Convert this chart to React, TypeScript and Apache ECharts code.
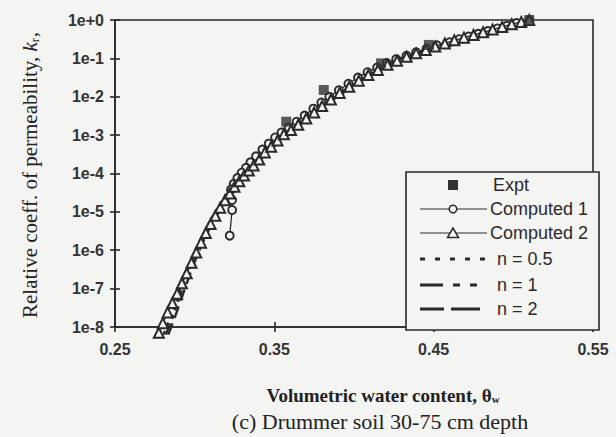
import React, { useEffect, useRef } from "react";
import * as echarts from "echarts";

// ---- tick labels ----
const xTicks = [0.25, 0.35, 0.45, 0.55];
const yTicks = [1e-8, 1e-7, 1e-6, 1e-5, 1e-4, 1e-3, 1e-2, 1e-1, 1];

// ---- series (volumetric water content, relative permeability) ----
const exptTheta = [0.3575, 0.381, 0.417, 0.447, 0.51];
const exptK = [2.24e-3, 1.5e-2, 7.4e-2, 0.224, 1.0];

const comp1Theta = [
  0.51, 0.502, 0.496, 0.49, 0.484, 0.478, 0.472, 0.466, 0.46, 0.452, 0.4455, 0.439,
  0.433, 0.4265, 0.4205, 0.4145, 0.4085, 0.4025, 0.3965, 0.3905, 0.3845, 0.3795,
  0.3745, 0.369, 0.364, 0.359, 0.3545, 0.3505, 0.3465, 0.3425, 0.3385, 0.335, 0.3322,
  0.3295, 0.3268, 0.3245, 0.3228, 0.3235, 0.3235, 0.322,
];
const comp1K = [
  1.0, 0.832, 0.708, 0.603, 0.513, 0.437, 0.372, 0.316, 0.263, 0.219, 0.178, 0.145,
  0.117, 0.0955, 0.0759, 0.0575, 0.0437, 0.0316, 0.0219, 0.0148, 0.01, 0.0071,
  0.0049, 0.00324, 0.00224, 0.00158, 1.17e-3, 8.7e-4, 6.0e-4, 4.2e-4, 2.8e-4,
  1.95e-4, 1.41e-4, 1.05e-4, 7.59e-5, 5.37e-5, 3.8e-5, 2.04e-5, 1.12e-5, 2.4e-6,
];

const comp2Theta = [
  0.2775, 0.28, 0.283, 0.286, 0.289, 0.292, 0.295, 0.298, 0.301, 0.304, 0.307, 0.31,
  0.313, 0.316, 0.319, 0.322, 0.325, 0.328, 0.331, 0.334, 0.337, 0.3405, 0.344, 0.348,
  0.352, 0.356, 0.3605, 0.365, 0.37, 0.375, 0.38, 0.3855, 0.391, 0.397, 0.403, 0.409,
  0.415, 0.421, 0.427, 0.433, 0.439, 0.445, 0.451, 0.457, 0.463, 0.469, 0.475, 0.481,
  0.487, 0.493, 0.499, 0.505, 0.51,
];
const comp2K = [
  7.1e-9, 1.26e-8, 2.4e-8, 4.2e-8, 7.4e-8, 1.38e-7, 2.5e-7, 4.7e-7, 8.7e-7, 1.58e-6,
  2.8e-6, 4.8e-6, 7.9e-6, 1.29e-5, 2.0e-5, 3.0e-5, 4.5e-5, 6.3e-5, 8.9e-5, 1.2e-4,
  1.62e-4, 2.3e-4, 3.55e-4, 5.0e-4, 7.2e-4, 1.05e-3, 1.35e-3, 1.86e-3, 2.7e-3, 3.9e-3,
  5.75e-3, 8.5e-3, 1.26e-2, 1.82e-2, 2.63e-2, 3.7e-2, 5.0e-2, 6.8e-2, 8.7e-2, 0.11,
  0.135, 0.166, 0.204, 0.245, 0.295, 0.347, 0.407, 0.479, 0.562, 0.661, 0.776, 0.891,
  1.0,
];

const n05Theta = [0.2805, 0.285, 0.29, 0.296, 0.302, 0.31, 0.32, 0.332, 0.345, 0.36, 0.38, 0.4, 0.425, 0.45, 0.48, 0.51];
const n1Theta = [0.282, 0.2865, 0.2915, 0.297, 0.303, 0.311, 0.321, 0.333, 0.346, 0.361, 0.38, 0.4, 0.425, 0.45, 0.48, 0.51];
const n2Theta = [0.2835, 0.288, 0.293, 0.2985, 0.3045, 0.312, 0.322, 0.334, 0.347, 0.362, 0.381, 0.401, 0.425, 0.45, 0.48, 0.51];
const nK = [6.3e-9, 2.0e-8, 7.9e-8, 3.5e-7, 1.41e-6, 6.3e-6, 2.8e-5, 1.12e-4, 4.0e-4, 1.41e-3, 5.75e-3, 2.1e-2, 7.9e-2, 0.2, 0.479, 1.0];

const legendLabels = ["Expt", "Computed 1", "Computed 2", "n = 0.5", "n = 1", "n = 2"];

const BG = "#f4f4f2";
const INK = "#2a2a2a";

const zip = (xs: number[], ys: number[]) => xs.map((x, i) => [x, ys[i]]);

export default function App() {
  const ref = useRef<HTMLDivElement>(null);
  useEffect(() => {
    if (!ref.current) return;
    const chart = echarts.init(ref.current, null, { renderer: "svg" });
    const axisLine = { show: true, onZero: false, lineStyle: { color: INK, width: 1.6 } };
    const tickStyle = { color: INK, width: 1.6 };
    const labelFont = {
      fontFamily: "Liberation Sans, Arial, sans-serif",
      fontSize: 16,
      fontWeight: "bold" as const,
      color: "#333",
    };
    const lineBase = {
      type: "line" as const,
      showSymbol: false,
      symbol: "none",
      clip: false,
      silent: true,
      z: 2,
    };
    const legendY = [185, 209, 233, 259, 285, 309];
    const sansText = (text: string, x: number, y: number) => ({
      type: "text",
      x,
      y,
      z: 101,
      style: {
        text,
        fill: "#2a2a2a",
        fontFamily: "Liberation Sans, Arial, sans-serif",
        fontSize: 18,
        align: "left",
        verticalAlign: "middle",
      },
    });
    const seg = (x1: number, x2: number, y: number, w: number, dash?: number[]) => ({
      type: "line",
      z: 101,
      shape: { x1, y1: y, x2, y2: y },
      style: { stroke: INK, lineWidth: w, lineDash: dash },
    });

    chart.setOption({
      animation: false,
      backgroundColor: BG,
      grid: {
        left: 115,
        right: 23,
        top: 20,
        bottom: 110,
        show: true,
        borderColor: INK,
        borderWidth: 1.6,
        backgroundColor: "transparent",
      },
      xAxis: [
        {
          type: "value",
          min: 0.25,
          max: 0.55,
          position: "bottom",
          axisLine,
          axisTick: { show: true, length: 5, lineStyle: tickStyle, customValues: xTicks },
          axisLabel: {
            ...labelFont,
            margin: 14,
            customValues: xTicks,
            formatter: (v: number) => v.toFixed(2),
          },
          splitLine: { show: false },
        },
        {
          type: "value",
          min: 0.25,
          max: 0.55,
          position: "bottom",
          axisLine: { show: false },
          axisTick: { show: true, inside: true, length: 5, lineStyle: tickStyle, customValues: xTicks },
          axisLabel: { show: false },
          splitLine: { show: false },
        },
      ],
      yAxis: [
        {
          type: "log",
          logBase: 10,
          min: 1e-8,
          max: 1,
          position: "left",
          axisLine,
          axisTick: { show: true, length: 5, lineStyle: tickStyle },
          axisLabel: {
            ...labelFont,
            margin: 11,
            formatter: (v: number) => {
              const e = Math.round(Math.log10(v));
              return "1e" + (e >= 0 ? "+" : "-") + Math.abs(e);
            },
          },
          splitLine: { show: false },
          minorTick: { show: false },
        },
        {
          type: "log",
          logBase: 10,
          min: 1e-8,
          max: 1,
          position: "left",
          axisLine: { show: false },
          axisTick: { show: true, inside: true, length: 5, lineStyle: tickStyle },
          axisLabel: { show: false },
          splitLine: { show: false },
        },
      ],
      series: [
        { ...lineBase, name: legendLabels[5], data: zip(n2Theta, nK), lineStyle: { color: INK, width: 2.4, type: [12, 6] } },
        { ...lineBase, name: legendLabels[4], data: zip(n1Theta, nK), lineStyle: { color: INK, width: 2.4, type: [12, 5, 4, 5, 4, 5] } },
        { ...lineBase, name: legendLabels[3], data: zip(n05Theta, nK), lineStyle: { color: INK, width: 2.4, type: [4, 5] } },
        {
          type: "line",
          name: legendLabels[1],
          data: zip(comp1Theta, comp1K),
          symbol: "circle",
          symbolSize: 8,
          showAllSymbol: true,
          clip: false,
          itemStyle: { color: BG, borderColor: INK, borderWidth: 1.9 },
          lineStyle: { color: INK, width: 1.3 },
          z: 3,
        },
        {
          type: "line",
          name: legendLabels[2],
          data: zip(comp2Theta, comp2K),
          symbol: "triangle",
          symbolSize: 10,
          showAllSymbol: true,
          clip: false,
          itemStyle: { color: BG, borderColor: INK, borderWidth: 2 },
          lineStyle: { color: INK, width: 1.3 },
          z: 4,
        },
        {
          type: "scatter",
          name: legendLabels[0],
          data: zip(exptTheta, exptK),
          symbol: "rect",
          symbolSize: 10,
          clip: false,
          itemStyle: { color: "#333" },
          z: 5,
        },
      ],
      graphic: [
        {
          type: "rect",
          z: 100,
          shape: { x: 406, y: 172, width: 193, height: 158 },
          style: { fill: BG, stroke: INK, lineWidth: 1.6 },
        },
        { type: "rect", z: 101, shape: { x: 448, y: legendY[0] - 5, width: 10, height: 10 }, style: { fill: "#333" } },
        sansText(legendLabels[0], 493, legendY[0]),
        seg(420, 487, legendY[1], 1.2),
        { type: "circle", z: 102, shape: { cx: 453, cy: legendY[1], r: 3.8 }, style: { fill: BG, stroke: INK, lineWidth: 1.5 } },
        sansText(legendLabels[1], 490, legendY[1]),
        seg(420, 487, legendY[2], 1.2),
        {
          type: "polygon",
          z: 102,
          shape: { points: [[453, legendY[2] - 5], [447.5, legendY[2] + 4.5], [458.5, legendY[2] + 4.5]] },
          style: { fill: BG, stroke: INK, lineWidth: 1.5 },
        },
        sansText(legendLabels[2], 490, legendY[2]),
        seg(420, 487, legendY[3], 3, [5, 10]),
        sansText(legendLabels[3], 497, legendY[3]),
        seg(420, 443, legendY[4], 3),
        seg(453, 460, legendY[4], 3),
        seg(470, 477, legendY[4], 3),
        sansText(legendLabels[4], 497, legendY[4]),
        seg(420, 444, legendY[5], 3),
        seg(451, 480, legendY[5], 3),
        sansText(legendLabels[5], 497, legendY[5]),
        {
          type: "text",
          x: 30,
          y: 175,
          rotation: Math.PI / 2,
          z: 101,
          style: {
            text: "Relative coeff. of permeability, {k|k}{r|r},",
            fill: "#222",
            fontFamily: "Liberation Serif, Times New Roman, serif",
            fontSize: 21,
            align: "center",
            verticalAlign: "middle",
            rich: {
              k: { fontStyle: "italic", fontFamily: "Liberation Serif, serif", fontSize: 21, fill: "#222" },
              r: { fontSize: 12, fontFamily: "Liberation Serif, serif", fill: "#222", verticalAlign: "bottom", padding: [9, 1, 0, 0] },
            },
          },
        },
        {
          type: "text",
          x: 383,
          y: 395,
          z: 101,
          style: {
            text: "Volumetric water content, θ{w|w}",
            fill: "#222",
            fontFamily: "Liberation Serif, Times New Roman, serif",
            fontSize: 19,
            fontWeight: "bold",
            align: "center",
            verticalAlign: "middle",
            rich: {
              w: { fontSize: 11, fontWeight: "bold", fontFamily: "Liberation Serif, serif", fill: "#222", verticalAlign: "bottom", padding: [7, 0, 0, 0] },
            },
          },
        },
        {
          type: "text",
          x: 380,
          y: 421,
          z: 101,
          style: {
            text: "(c) Drummer soil 30-75 cm depth",
            fill: "#222",
            fontFamily: "Liberation Serif, Times New Roman, serif",
            fontSize: 22,
            align: "center",
            verticalAlign: "middle",
          },
        },
      ],
    });
    return () => chart.dispose();
  }, []);
  return (
    <div
      ref={ref}
      style={{ position: "absolute", left: 0, top: 0, width: 616, height: 437, background: BG }}
    />
  );
}
